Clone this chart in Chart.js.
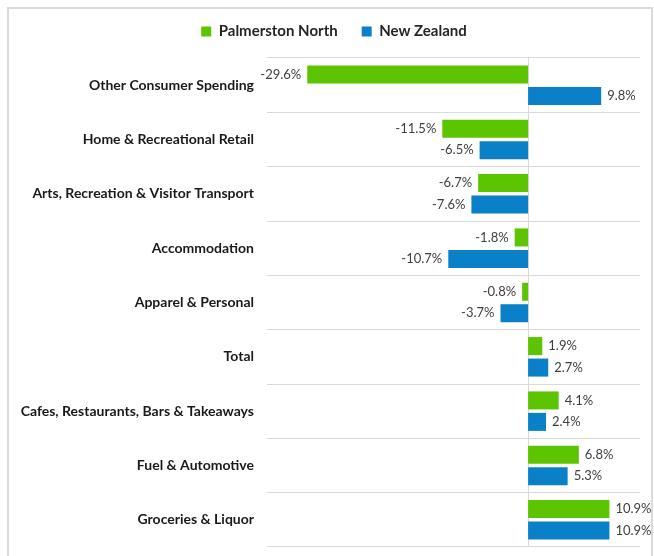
<!DOCTYPE html>
<html>
<head>
<meta charset="utf-8">
<script src="https://cdn.jsdelivr.net/npm/chart.js@4/dist/chart.umd.min.js"></script>
<style>
  html, body { margin: 0; padding: 0; background: #ffffff; }
  #wrap { position: relative; width: 654px; height: 556px; }
</style>
</head>
<body>
<div id="wrap"><canvas id="chart" width="654" height="556"></canvas></div>
<script>
// Spending categories, top to bottom
const categories = [
  'Other Consumer Spending',
  'Home & Recreational Retail',
  'Arts, Recreation & Visitor Transport',
  'Accommodation',
  'Apparel & Personal',
  'Total',
  'Cafes, Restaurants, Bars & Takeaways',
  'Fuel & Automotive',
  'Groceries & Liquor'
];

// Annual change in spending (%)
const palmerstonNorth = [-29.6, -11.5, -6.7, -1.8, -0.8, 1.9, 4.1, 6.8, 10.9];
const newZealand      = [9.8, -6.5, -7.6, -10.7, -3.7, 2.7, 2.4, 5.3, 10.9];

const seriesNames = ['Palmerston North', 'New Zealand'];

// Value axis range
const xMin = -35;
const xMax = 15;

const FONT = 'Lato, "Open Sans", sans-serif';
const GREEN = '#5cc400';
const BLUE = '#0a80c8';
const GRID = '#d9d9d9';

// Light frame around the chart
const framePlugin = {
  id: 'frame',
  beforeDraw(chart) {
    const ctx = chart.ctx;
    ctx.save();
    ctx.strokeStyle = '#dadada';
    ctx.lineWidth = 2;
    ctx.strokeRect(8, 8, 644, 620);
    ctx.restore();
  }
};

// Legend spacing: extra gap below it, and a small shift to the right
const legendPlacement = {
  id: 'legendPlacement',
  beforeInit(chart) {
    const legend = chart.legend;
    if (!legend) return;
    const fit = legend.fit;
    legend.fit = function () {
      fit.call(this);
      this.height += 9;
    };
  },
  afterLayout(chart) {
    const legend = chart.legend;
    if (!legend) return;
    legend.left += 14;
    legend.right += 14;
  }
};

// Vertical line at zero on the value axis
const zeroLine = {
  id: 'zeroLine',
  beforeDatasetsDraw(chart) {
    const { ctx, chartArea, scales } = chart;
    const x = Math.round(scales.x.getPixelForValue(0)) + 0.5;
    ctx.save();
    ctx.strokeStyle = GRID;
    ctx.lineWidth = 1;
    ctx.beginPath();
    ctx.moveTo(x, chartArea.top);
    ctx.lineTo(x, chartArea.bottom);
    ctx.stroke();
    ctx.restore();
  }
};

// Percentage labels at the end of each bar
const valueLabels = {
  id: 'valueLabels',
  afterDatasetsDraw(chart) {
    const ctx = chart.ctx;
    ctx.save();
    ctx.font = '13px ' + FONT;
    ctx.fillStyle = '#404040';
    ctx.textBaseline = 'middle';
    chart.data.datasets.forEach((ds, di) => {
      const meta = chart.getDatasetMeta(di);
      meta.data.forEach((bar, i) => {
        const v = ds.data[i];
        const txt = v.toFixed(1) + '%';
        if (v >= 0) {
          ctx.textAlign = 'left';
          ctx.fillText(txt, bar.x + 6, bar.y);
        } else {
          ctx.textAlign = 'right';
          ctx.fillText(txt, bar.x - 6, bar.y);
        }
      });
    });
    ctx.restore();
  }
};

new Chart(document.getElementById('chart'), {
  type: 'bar',
  data: {
    labels: categories,
    datasets: [
      {
        label: seriesNames[0],
        data: palmerstonNorth,
        backgroundColor: GREEN,
        categoryPercentage: 0.79,
        barPercentage: 0.84
      },
      {
        label: seriesNames[1],
        data: newZealand,
        backgroundColor: BLUE,
        categoryPercentage: 0.79,
        barPercentage: 0.84
      }
    ]
  },
  options: {
    indexAxis: 'y',
    responsive: false,
    animation: false,
    layout: { padding: { top: 0, right: 14, bottom: 9, left: 0 } },
    plugins: {
      legend: {
        position: 'top',
        align: 'center',
        labels: {
          boxWidth: 10,
          boxHeight: 10,
          padding: 24,
          color: '#262626',
          font: { family: FONT, size: 15, weight: 'bold' }
        }
      },
      tooltip: { enabled: false }
    },
    scales: {
      x: {
        display: false,
        min: xMin,
        max: xMax
      },
      y: {
        border: { display: false },
        grid: { offset: true, drawTicks: false, color: GRID, lineWidth: 1 },
        ticks: {
          color: '#1a1a1a',
          padding: 13,
          font: { family: FONT, size: 14, weight: 'bold' }
        },
        afterFit(scale) {
          scale.width = 267;
          scale.paddingTop = 0;
          scale.paddingBottom = 0;
        }
      }
    }
  },
  plugins: [framePlugin, legendPlacement, zeroLine, valueLabels]
});
</script>
</body>
</html>
